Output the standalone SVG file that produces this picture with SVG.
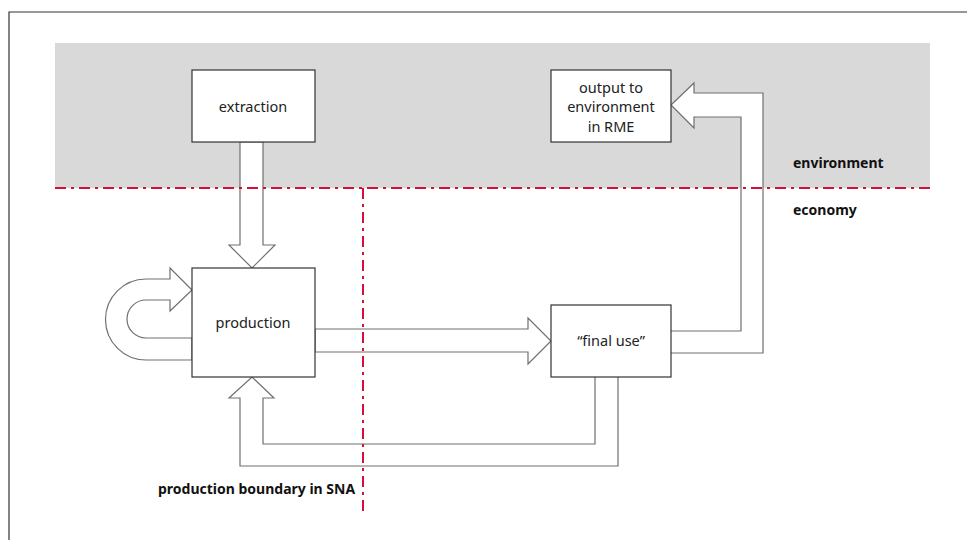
<svg xmlns="http://www.w3.org/2000/svg" width="967" height="540" viewBox="0 0 967 540">
<style>
.box{fill:#fff;stroke:#333;stroke-width:1.2}
.arr{fill:#fff;stroke:#707070;stroke-width:1.2;stroke-linejoin:miter}
.red{fill:none;stroke:#d50f3c;stroke-width:2;stroke-dasharray:11 5 3 5}
text{font-family:"Noto Sans","Open Sans","DejaVu Sans",sans-serif;font-size:14.5px;fill:#222}
.lbl{font-weight:bold;fill:#111;font-size:14px}
</style>
<rect x="0" y="0" width="967" height="540" fill="#fff"/>
<path d="M9 540 V12 H967" fill="none" stroke="#333" stroke-width="1.2"/>
<rect x="55" y="43" width="875" height="145" fill="#d9d9d9"/>
<g id="connectors">
<path class="arr" d="M240 142 V245 H229 L252 268 L275 245 H263 V142 Z"/>
<path class="arr" d="M315 329 H528 V318 L551 341 L528 364 V352 H315 Z"/>
<path class="arr" d="M192 290 L170 268 V279 H146 A40.5 40.5 0 0 0 146 360 H192 V338 H146 A19 19 0 0 1 146 300 H170 V311 Z"/>
<path class="arr" d="M671 331 H741 V117 H694 V128 L671 105 L694 83 V93 H763 V353 H671"/>
<path class="arr" d="M595 377 V444 H263 V398 H274 L252 377 L229 398 H240 V466 H618 V377"/>
</g>
<path class="red" d="M55 188 H930"/>
<path class="red" d="M363 188 V512"/>
<g id="extraction"><rect class="box" x="192" y="70" width="123" height="72"/><text x="253" y="112" text-anchor="middle">extraction</text></g>
<g id="output"><rect class="box" x="551" y="70" width="120" height="72"/><text text-anchor="middle"><tspan x="611" y="93">output to</tspan><tspan x="611" y="112">environment</tspan><tspan x="611" y="132">in RME</tspan></text></g>
<g id="production"><rect class="box" x="192" y="268" width="123" height="109"/><text x="253" y="328" text-anchor="middle">production</text></g>
<g id="final-use"><rect class="box" x="551" y="305" width="120" height="72"/><text x="611" y="346" text-anchor="middle">“final use”</text></g>
<text class="lbl" x="793" y="168">environment</text>
<text class="lbl" x="793" y="215">economy</text>
<text class="lbl" x="158" y="494">production boundary in SNA</text>
</svg>
